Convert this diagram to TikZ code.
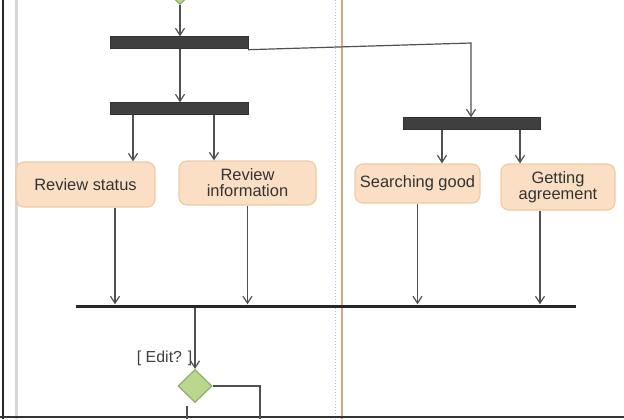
\documentclass[tikz,border=0pt]{standalone}
\usepackage{fontspec}
\setmainfont{Liberation Sans}
\usetikzlibrary{arrows.meta,shapes.geometric,calc}
\definecolor{actfill}{HTML}{FBDFC4}
\definecolor{actdraw}{HTML}{F1CAA3}
\definecolor{decfill}{HTML}{BBD78E}
\definecolor{decdraw}{HTML}{8FAE69}
\definecolor{barfill}{HTML}{3F3F3F}
\definecolor{flow}{HTML}{505050}
\definecolor{lanegray}{HTML}{D6D6D6}
\definecolor{laneblue}{HTML}{A9C6E6}
\definecolor{laneorange}{HTML}{D8A689}
\tikzset{
  activity/.style={draw=actdraw, line width=1.2pt, fill=actfill, rounded corners=8pt,
    align=center, text=black!80, font=\fontsize{16.5}{16}\selectfont, inner sep=0pt},
  forkbar/.style={draw=barfill!80!black, fill=barfill, inner sep=0pt, minimum height=12bp},
  joinbar/.style={fill=black!85, inner sep=0pt, minimum height=3bp},
  decision/.style={diamond, draw=decdraw, line width=1.2pt, fill=decfill, inner sep=0pt,
    minimum width=34bp, minimum height=33bp},
  flowline/.style={draw=flow, line width=1.2pt},
  flowarrow/.style={flowline, -{Straight Barb[length=7bp,width=9bp,line width=1.2pt]}},
  guard/.style={text=black!75, font=\fontsize{16}{17}\selectfont, inner sep=1pt}
}
\begin{document}
\begin{tikzpicture}[x=1bp,y=-1bp]
\useasboundingbox (0,0) rectangle (624,419);
\clip (0,0) rectangle (624,419);
\fill[white] (0,0) rectangle (624,419);

% swimlane frame
\draw[black!85, line width=1.2bp] (3,0) -- (3,419);
\draw[lanegray, line width=3bp] (16,0) -- (16,419);
\draw[laneblue, dotted, line width=1bp] (335,0) -- (335,419);
\draw[laneorange, line width=2bp] (341.5,0) -- (341.5,419);
\draw[black!80, line width=2bp] (0,417) -- (624,417);

% nodes
\node[decision] (start) at (180,-12) {};
\node[forkbar, minimum width=138bp] (bar1) at (179,42.5) {};
\node[forkbar, minimum width=138bp] (bar2) at (179,108.5) {};
\node[forkbar, minimum width=137bp] (bar3) at (471.5,123.5) {};
\node[activity, minimum width=139bp, minimum height=45bp] (rs) at (85.5,184.5) {Review status};
\node[activity, minimum width=137bp, minimum height=44bp] (ri) at (247.5,183) {Review\\information};
\node[activity, minimum width=125bp, minimum height=39bp] (sg) at (417.5,183.5) {Searching good};
\node[activity, minimum width=114bp, minimum height=46bp] (ga) at (558,187) {Getting\\agreement};
\node[joinbar, minimum width=500bp] (join) at (326,306) {};
\node[decision] (edit) at (195,386) {};
\coordinate (bend) at (471,43);
\coordinate (loop) at (260,386);

% control flow
\draw[flowarrow] (start.south) -- (start.south |- bar1.north);
\draw[flowarrow] (bar1.south -| start.south) -- (bar2.north -| start.south);
\draw[flowarrow] ([yshift=-1bp]bar1.south east) -- (bend) -- (bend |- bar3.north);
\draw[flowarrow] ([xshift=-46bp]bar2.south) -- ([xshift=-46bp]bar2.south |- rs.north);
\draw[flowarrow] ([xshift=35bp]bar2.south) -- ([xshift=35bp]bar2.south |- ri.north);
\draw[flowarrow] ([xshift=-29.5bp]bar3.south) -- ([xshift=-29.5bp]bar3.south |- sg.north);
\draw[flowarrow] ([xshift=48.5bp]bar3.south) -- ([xshift=48.5bp]bar3.south |- ga.north);
\draw[flowarrow] ([xshift=29.5bp]rs.south) -- ([xshift=29.5bp]rs.south |- join.north);
\draw[flowarrow] (ri.south) -- (ri.south |- join.north);
\draw[flowarrow] (sg.south) -- (sg.south |- join.north);
\draw[flowarrow] ([xshift=-18bp]ga.south) -- ([xshift=-18bp]ga.south |- join.north);
\draw[flowarrow] (edit.north |- join.south) -- node[guard, pos=0.83, left=1bp] {[ Edit? ]} (edit.north);
\draw[flowline] (edit.east) -- (loop) -- (loop |- 0,419);
\draw[flowline] ([xshift=-8bp,yshift=-3bp]edit.south) -- ([xshift=-8bp]edit.south |- 0,419);
\end{tikzpicture}
\end{document}
